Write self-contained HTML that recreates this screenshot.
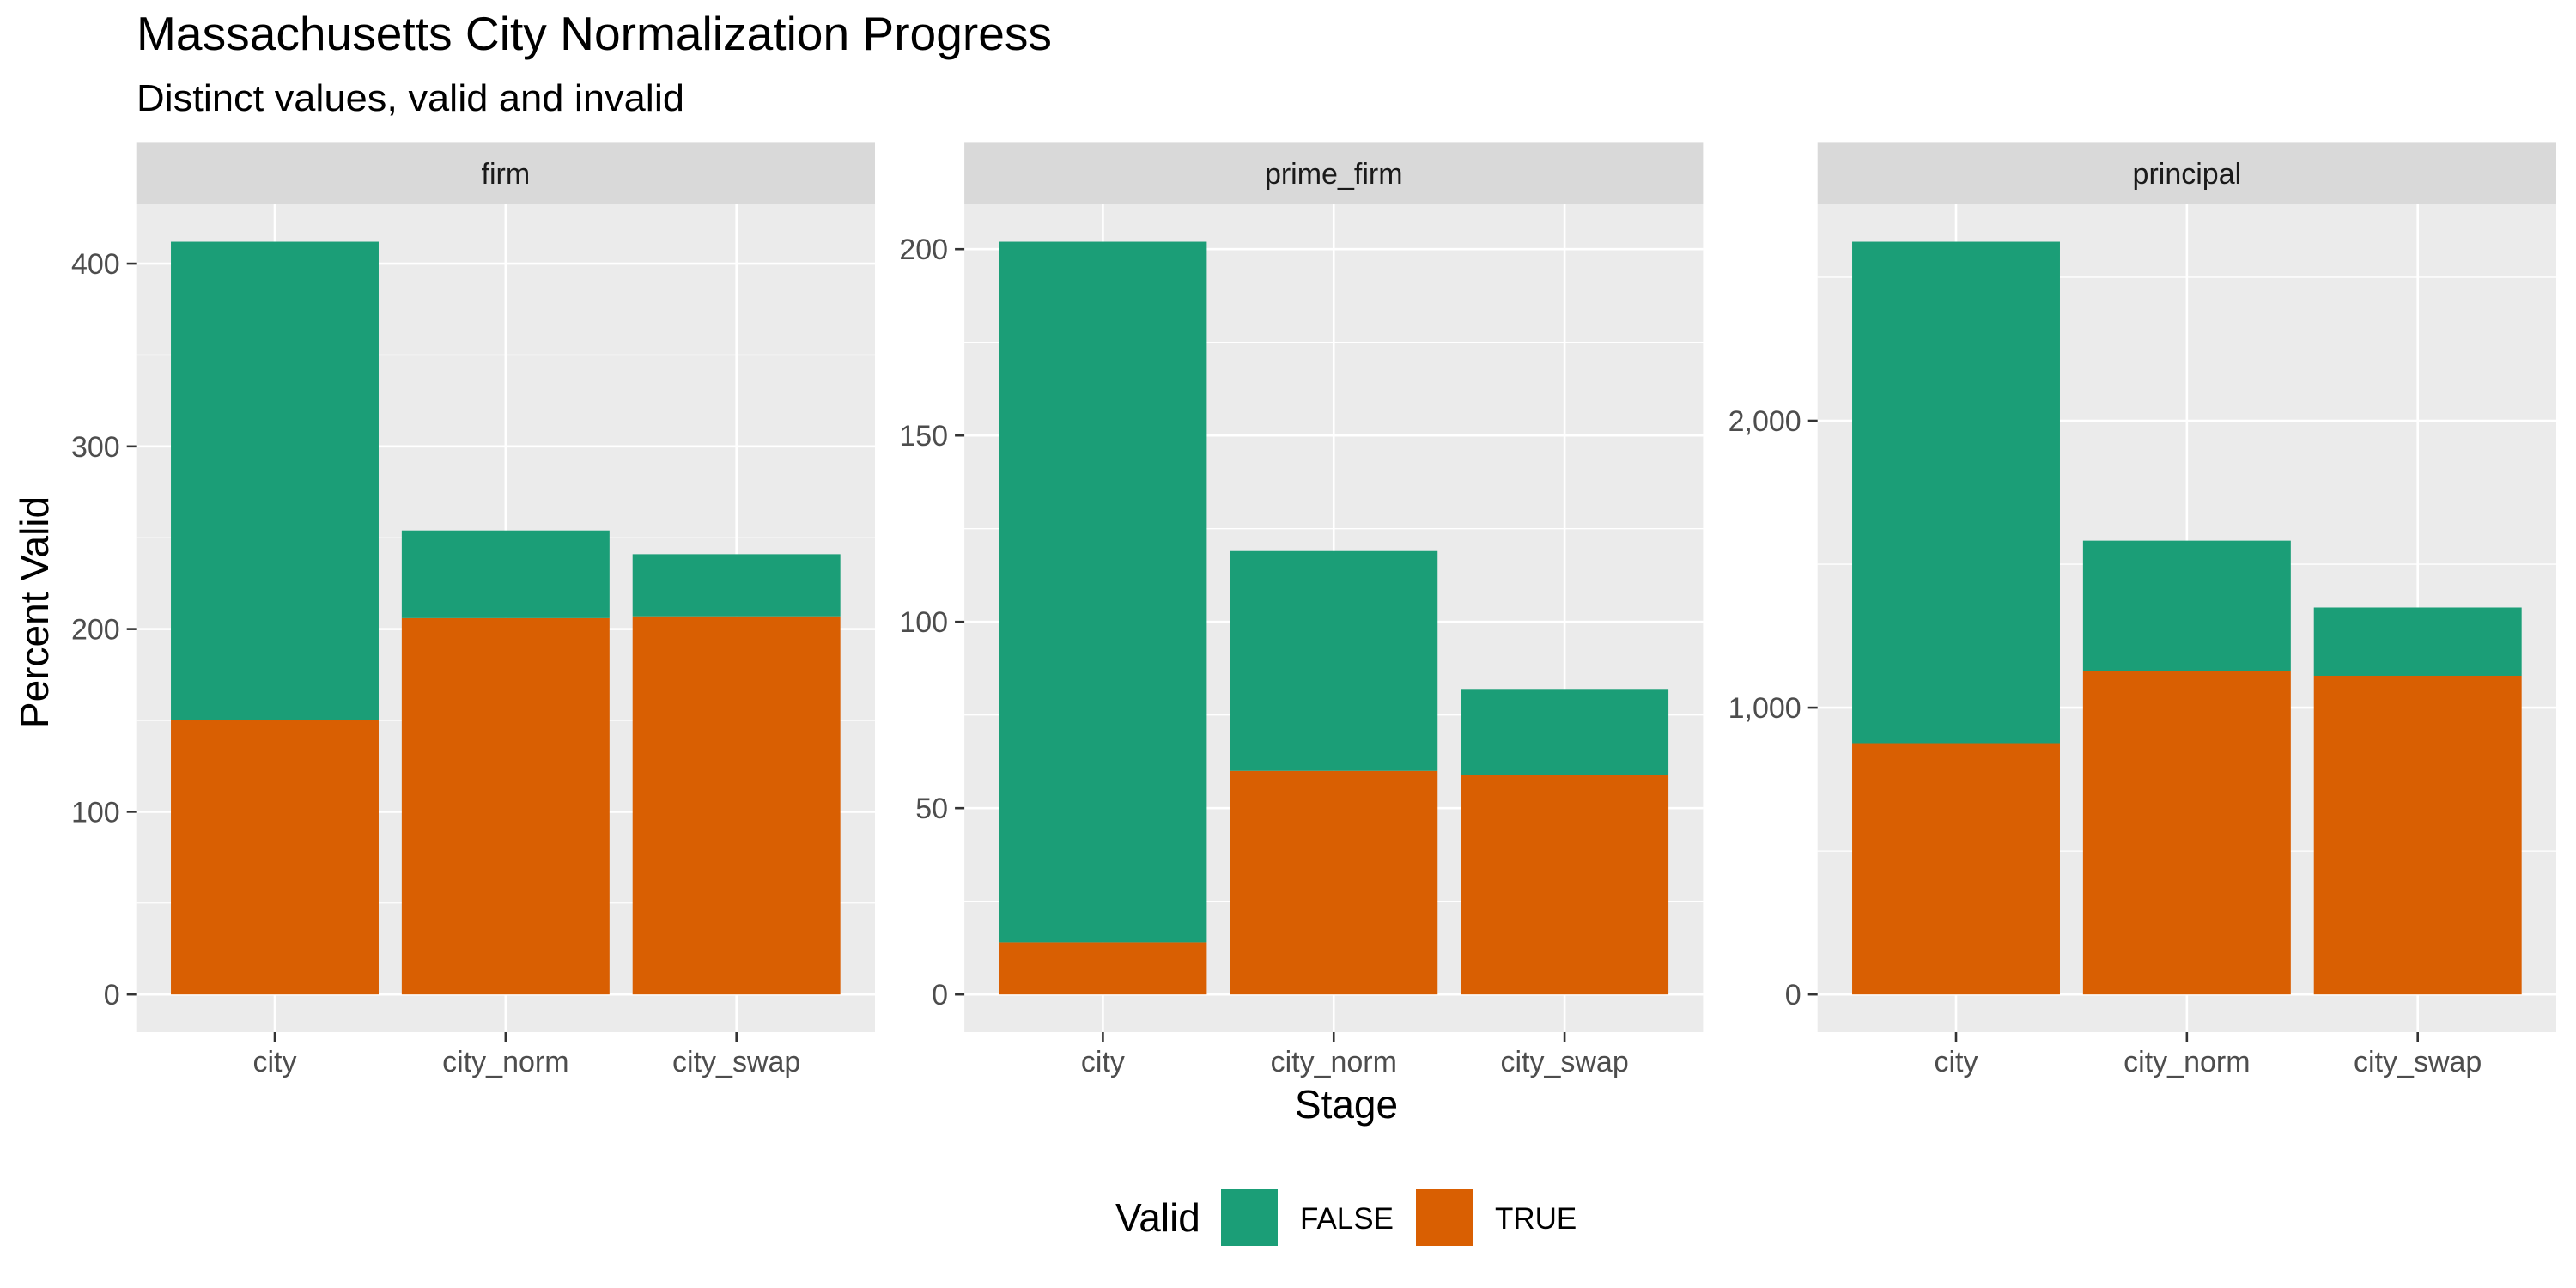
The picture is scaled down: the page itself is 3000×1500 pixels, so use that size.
<!DOCTYPE html>
<html><head><meta charset="utf-8"><style>
html,body{margin:0;padding:0;background:#fff;}
svg{display:block;font-family:"Liberation Sans",Arial,sans-serif;}
</style></head><body>
<svg id="chart" width="3000" height="1500" viewBox="0 0 3000 1500" xmlns="http://www.w3.org/2000/svg">
<text x="159" y="58" font-size="55" textLength="1066" lengthAdjust="spacingAndGlyphs" fill="#000">Massachusetts City Normalization Progress</text>
<text x="159" y="129" font-size="44" textLength="638" lengthAdjust="spacingAndGlyphs" fill="#000">Distinct values, valid and invalid</text>
<text transform="translate(56,713) rotate(-90)" text-anchor="middle" font-size="46" fill="#000">Percent Valid</text>
<text x="1568" y="1302" text-anchor="middle" font-size="46" fill="#000">Stage</text>
<g>
<text x="1299" y="1434" font-size="46" fill="#000">Valid</text>
<rect x="1422" y="1385" width="66" height="66" fill="#1B9E77"/>
<text x="1514" y="1431" font-size="35" fill="#000">FALSE</text>
<rect x="1649" y="1385" width="66" height="66" fill="#D95F02"/>
<text x="1741" y="1431" font-size="35" fill="#000">TRUE</text>
</g>
<g id="panels"></g>
</svg>
<script>
const facets = ["firm", "prime_firm", "principal"];
const stages = ["city", "city_norm", "city_swap"];
const trueFirm = [150, 206, 207];
const falseFirm = [262, 48, 34];
const truePrime = [14, 60, 59];
const falsePrime = [188, 59, 23];
const truePrincipal = [876, 1128, 1111];
const falsePrincipal = [1748, 454, 238];
const ticksFirm = [0, 100, 200, 300, 400];
const ticksPrime = [0, 50, 100, 150, 200];
const ticksPrincipal = [0, 1000, 2000];
const tickLabelsPrincipal = ["0", "1,000", "2,000"];

const NS = "http://www.w3.org/2000/svg";
const root = document.getElementById("panels");
function mk(tag, attrs, parent) {
  const e = document.createElementNS(NS, tag);
  for (const k in attrs) e.setAttribute(k, attrs[k]);
  parent.appendChild(e);
  return e;
}
const panelLeft = [158.7, 1123.1, 2116.7];
const panelW = 860.3;
const stripTop = 165.4, plotTop = 237.7, plotBottom = 1202;
const trueSets = [trueFirm, truePrime, truePrincipal];
const falseSets = [falseFirm, falsePrime, falsePrincipal];
const tickSets = [ticksFirm, ticksPrime, ticksPrincipal];
const labelSets = [ticksFirm.map(String), ticksPrime.map(String), tickLabelsPrincipal];

facets.forEach((f, p) => {
  const L = panelLeft[p], R = L + panelW;
  const tv = trueSets[p], fv = falseSets[p];
  const maxV = Math.max(...tv.map((t, i) => t + fv[i]));
  const y0 = -0.05 * maxV, y1 = 1.05 * maxV;
  const y = v => plotBottom - (v - y0) / (y1 - y0) * (plotBottom - plotTop);
  const x = i => L + (i + 1 - 0.4) / 3.2 * panelW;
  const bw = 0.9 / 3.2 * panelW;
  const g = mk("g", {}, root);
  
  
  const strip = mk("rect", {x: L, y: stripTop, width: panelW, height: plotTop - stripTop, fill: "#D9D9D9"}, g);
  
  
  const st = mk("text", {x: L + panelW / 2, y: 214, "text-anchor": "middle", "font-size": 34, fill: "#1A1A1A"}, g);
  st.textContent = f;
  
  
  const bg = mk("rect", {x: L, y: plotTop, width: panelW, height: plotBottom - plotTop, fill: "#EBEBEB"}, g);
  
  
  const ticks = tickSets[p];
  const step = ticks[1] - ticks[0];
  for (let k = 0; k < ticks.length + 1; k++) {
    const v = ticks[0] + step * (k + 0.5);
    if (v < y1) {
      const ln = mk("line", {x1: L, x2: R, y1: y(v), y2: y(v), stroke: "#fff", "stroke-width": 1.3}, g);
      
      
    }
  }
  ticks.forEach((v, k) => {
    const ln = mk("line", {x1: L, x2: R, y1: y(v), y2: y(v), stroke: "#fff", "stroke-width": 2.6}, g);
    
    
    const tk = mk("line", {x1: L - 11, x2: L, y1: y(v), y2: y(v), stroke: "#333", "stroke-width": 2.6}, g);
    
    
    const tl = mk("text", {x: L - 19, y: y(v) + 12, "text-anchor": "end", "font-size": 34, fill: "#4D4D4D"}, g);
    tl.textContent = labelSets[p][k];
    
    
  });
  stages.forEach((s, i) => {
    const ln = mk("line", {x1: x(i), x2: x(i), y1: plotTop, y2: plotBottom, stroke: "#fff", "stroke-width": 2.6}, g);
    
    
  });
  stages.forEach((s, i) => {
    const bt = mk("rect", {x: x(i) - bw / 2, y: y(tv[i]), width: bw, height: y(0) - y(tv[i]), fill: "#D95F02"}, g);
    
    
    const bf = mk("rect", {x: x(i) - bw / 2, y: y(tv[i] + fv[i]), width: bw, height: y(tv[i]) - y(tv[i] + fv[i]), fill: "#1B9E77"}, g);
    
    
    const tk = mk("line", {x1: x(i), x2: x(i), y1: plotBottom, y2: plotBottom + 11, stroke: "#333", "stroke-width": 2.6}, g);
    
    
    const tl = mk("text", {x: x(i), y: 1248, "text-anchor": "middle", "font-size": 34, fill: "#4D4D4D"}, g);
    tl.textContent = s;
    
    
  });
});
</script>
</body></html>
